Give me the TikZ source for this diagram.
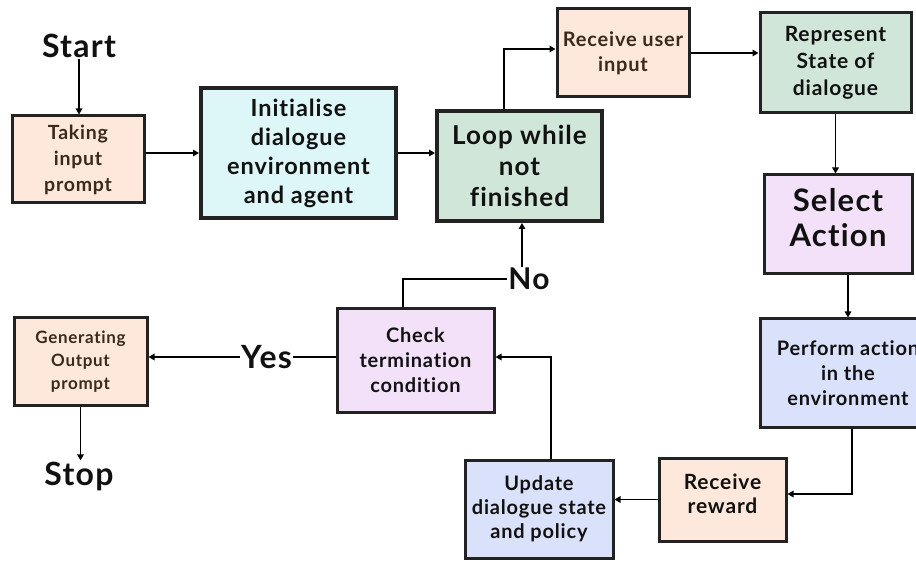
\documentclass[tikz,border=0pt]{standalone}
\usepackage{fontspec}
\setmainfont{Lato}[LetterSpace=4, Ligatures=NoCommon]
\usetikzlibrary{arrows.meta}
\definecolor{peach}{HTML}{FDE8DB}
\definecolor{cyanbox}{HTML}{DDF6F8}
\definecolor{mint}{HTML}{CFE6D9}
\definecolor{lilac}{HTML}{F3E1F9}
\definecolor{paleblue}{HTML}{DAE1FA}
\definecolor{edge}{HTML}{222222}
\definecolor{ink}{HTML}{111111}
\definecolor{brownink}{HTML}{3A2A1C}
\tikzset{
  box/.style={draw=edge, line width=3pt, inner sep=0pt, align=center, text=ink, font=\bfseries},
  thick box/.style={box, line width=4pt},
  fsz/.style 2 args={font=\fontsize{#1}{#2}\selectfont\bfseries},
  label text/.style={inner sep=1pt, text=ink, font=\fontsize{32}{32}\selectfont\bfseries},
  conn/.style={draw=black, line width=1.6pt},
  arr/.style={conn, -{Triangle[length=6pt,width=6.5pt]}},
}
\begin{document}
\begin{tikzpicture}[x=1pt, y=-1pt]
\useasboundingbox (0,0) rectangle (916,561);
\fill[white] (0,0) rectangle (916,561);

% process boxes
\node[box, fill=peach, text=brownink, minimum width=132pt, minimum height=87pt, fsz={19.5}{26}]
  (take) at (78,159.5) {Taking\\input\\prompt};
\node[thick box, fill=cyanbox, minimum width=195pt, minimum height=130pt, fsz={23.5}{29}]
  (init) at (298.5,153) {Initialise\\dialogue\\environment\\and agent};
\node[thick box, fill=mint, minimum width=165pt, minimum height=110pt, fsz={26}{31}]
  (loop) at (519.5,166) {Loop while\\not\\finished};
\node[box, fill=peach, text=brownink, minimum width=132pt, minimum height=88pt, fsz={20}{25}]
  (recv) at (623,53) {Receive user\\input};
\node[box, fill=mint, minimum width=151pt, minimum height=100pt, fsz={21}{27}]
  (repr) at (835.5,63) {Represent\\State of\\dialogue};
\node[box, fill=lilac, minimum width=148pt, minimum height=99pt, fsz={31}{35}]
  (sel) at (838,224.5) {Select\\Action\\[-21pt]};
\node[box, fill=paleblue, minimum width=176pt, minimum height=108pt, fsz={20}{25}]
  (perf) at (848,373) {Perform action\\in the\\environment};
\node[box, fill=peach, minimum width=127pt, minimum height=83pt, fsz={21}{24}]
  (rew) at (722.5,499.5) {Receive\\reward\\[-12pt]};
\node[box, fill=paleblue, minimum width=148pt, minimum height=98pt, fsz={20}{24}]
  (upd) at (539,509) {Update\\dialogue state\\and policy};
\node[box, fill=lilac, minimum width=157pt, minimum height=103pt, fsz={20}{25}]
  (chk) at (415.5,360.5) {Check\\termination\\condition};
\node[box, fill=peach, text=brownink, minimum width=133pt, minimum height=87pt, fsz={17}{23}]
  (gen) at (80.5,361.5) {Generating\\Output\\prompt};

% terminal and branch labels
\node[label text] (start) at (79,46) {Start};
\node[label text] (stop) at (79,476) {Stop};
\node[label text] (yes) at (266.5,357) {Yes};
\node[label text, font=\fontsize{30}{30}\selectfont\bfseries] (no) at (529,279) {No};

% bend points of the elbow connectors
\coordinate (toRecv) at (504,49);
\coordinate (toRew) at (852,494);
\coordinate (toChk) at (551,357);
\coordinate (toNo) at (403,279);
\coordinate (upLoop) at (522,0);

% connectors
\draw[arr] (start.south) -- (start.south |- take.north);
\draw[arr] (take.east |- init.west) -- (init.west);
\draw[arr] (init.east) -- (init.east -| loop.west);
\draw[arr] (loop.north -| toRecv) |- (recv.west |- toRecv);
\draw[arr] (recv.east) -- (recv.east -| repr.west);
\draw[arr] (repr.south) -- (repr.south |- sel.north);
\draw[arr] (perf.north |- sel.south) -- (perf.north);
\draw[arr] (perf.south -| toRew) |- (rew.east |- toRew);
\draw[arr] (rew.west) -- (rew.west -| upd.east);
\draw[arr] (upd.north -| toChk) |- (chk.east |- toChk);
\draw[conn] (chk.west |- yes) -- (yes.east);
\draw[arr] (yes.west) -- (yes.west -| gen.east);
\draw[conn] (chk.north -| toNo) |- (no.west |- toNo);
\draw[arr] (no.north -| upLoop) -- (loop.south -| upLoop);
\draw[arr] (gen.south) -- (gen.south |- stop.north);
\end{tikzpicture}
\end{document}
